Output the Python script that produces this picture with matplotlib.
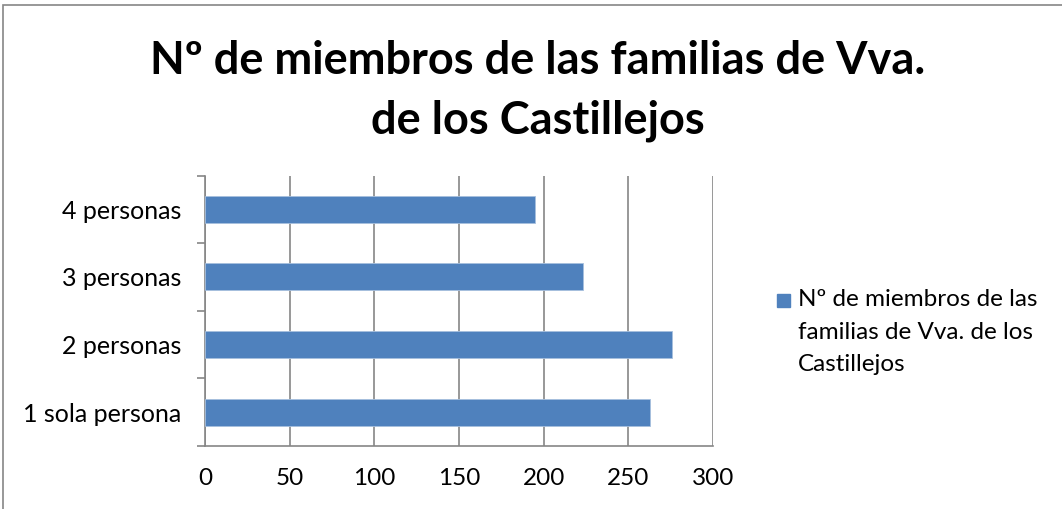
import matplotlib
matplotlib.use("Agg")
import matplotlib.pyplot as plt
from matplotlib.patches import Rectangle

plt.rcParams["font.family"] = ["Lato", "DejaVu Sans"]

categories = ["1 sola persona", "2 personas", "3 personas", "4 personas"]
values = [263, 276, 223, 195]
series_name = "Nº de miembros de las familias de Vva. de los Castillejos"
title = "Nº de miembros de las familias de Vva.\nde los Castillejos"
xticks = [0, 50, 100, 150, 200, 250, 300]

BAR = "#4f81bd"
GRID = "#868686"

fig = plt.figure(figsize=(10.62, 5.09), dpi=100)
W, H = 1062, 509

# chart-area border (cropped at right / bottom like the screenshot)
fig.patches.append(Rectangle((3 / W, -0.1), 1.2, 1 - 5 / H + 0.1,
                             transform=fig.transFigure, fill=False,
                             edgecolor="#868686", linewidth=1.2))

ax = fig.add_axes([205 / W, 63 / H, (713 - 205) / W, (446 - 175.5) / H])
ax.barh(range(len(categories)), values, height=0.4, color=BAR,
        edgecolor="#a7c0de", linewidth=0.6, zorder=3)

ax.set_xlim(0, 300)
ax.set_ylim(-0.5, len(categories) - 0.5)
ax.set_xticks(xticks)
ax.set_xticklabels([str(t) for t in xticks], fontsize=17.5)
ax.set_yticks(range(len(categories)))
ax.set_yticklabels(categories, fontsize=18)
ax.tick_params(axis="y", length=0, pad=17)
ax.tick_params(axis="x", length=0, pad=16)

# category boundary ticks on the y axis
ax.set_yticks([i - 0.5 for i in range(len(categories) + 1)], minor=True)
ax.tick_params(axis="y", which="minor", length=6, color=GRID, width=1.2)
# short ticks under the value axis
ax.set_xticks(xticks, minor=True)
ax.tick_params(axis="x", which="minor", length=6, color=GRID, width=1.2)

ax.grid(axis="x", color=GRID, linewidth=1.2, zorder=0)
for s in ["top", "right"]:
    ax.spines[s].set_visible(False)
for s in ["left", "bottom"]:
    ax.spines[s].set_color(GRID)
    ax.spines[s].set_linewidth(1.2)

fig.text(538 / W, 1 - 91 / H, title, ha="center", va="center",
         fontsize=32.5, fontweight="bold", linespacing=1.5)

# legend
fig.patches.append(Rectangle((777 / W, 1 - 307 / H), 13 / W, 13 / H,
                             transform=fig.transFigure, color=BAR))
fig.text(798 / W, 1 - 289 / H, "Nº de miembros de las\nfamilias de Vva. de los\nCastillejos",
         ha="left", va="top", fontsize=17.5, linespacing=1.68)

fig.savefig("out.png", dpi=100)
